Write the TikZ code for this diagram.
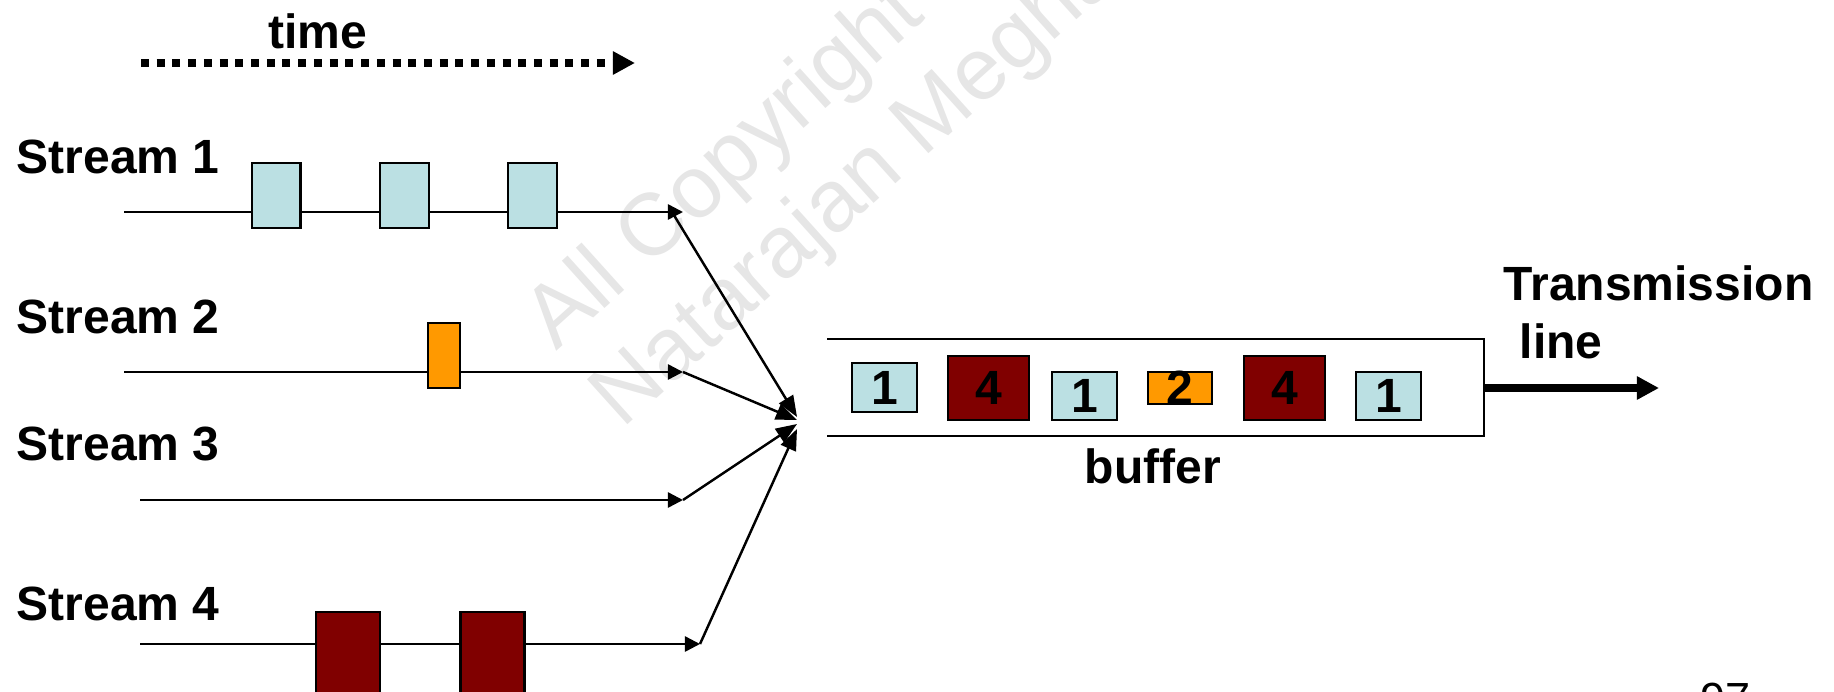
\documentclass[tikz,border=0pt]{standalone}
\usepackage{fontspec}
\setmainfont{Liberation Sans}
\usetikzlibrary{arrows.meta}
\definecolor{pktblue}{RGB}{187,224,227}
\definecolor{pktred}{RGB}{128,0,0}
\definecolor{pktorange}{RGB}{255,153,0}
\definecolor{wmgray}{RGB}{230,230,230}

\begin{document}
\begin{tikzpicture}[x=0.01cm,y=-0.01cm,
  lbl/.style={font=\fontsize{13.66pt}{16pt}\selectfont\bfseries, inner sep=0pt},
  wm/.style={font=\fontsize{25pt}{29pt}\selectfont, text=wmgray, inner sep=0pt, rotate=42, anchor=base west},
  flow/.style={line width=0.7pt, -{Triangle[length=4.3pt,width=4.3pt]}},
  feed/.style={line width=0.7pt, -{Triangle[length=6pt,width=4.6pt]}},
  timeline/.style={line width=2.4pt, dash pattern=on 2.28pt off 2.19pt, -{Triangle[length=6.3pt,width=6.3pt]}},
  txline/.style={line width=2.1pt, -{Triangle[length=6.3pt,width=6.3pt]}},
  pkt/.style={draw=black, line width=0.7pt, inner sep=0pt, rectangle},
  s1pkt/.style={pkt, fill=pktblue, minimum width=0.485cm, minimum height=0.65cm},
  s2pkt/.style={pkt, fill=pktorange, minimum width=0.32cm, minimum height=0.65cm},
  s4pkt/.style={pkt, fill=pktred, minimum width=0.64cm, minimum height=0.9cm},
  digit/.style={label={[lbl]center:#1}}
]
\useasboundingbox (0,0) rectangle (1834,691);
\clip (0,0) rectangle (1834,691);

% faint watermark behind everything
\node[wm] (wm1) at (556,352) {All Copyright};
\node[wm] (wm2) at (622,430) {Natarajan Meghanathan};

% time axis
\node[lbl, anchor=base] (time) at (317.5,49) {time};
\coordinate (t0) at (141,63);
\coordinate (t1) at (635,63);
\draw[timeline] (t0) -- (t1);

% stream labels
\node[lbl, anchor=base west] (st1) at (16,173) {Stream 1};
\node[lbl, anchor=base west] (st2) at (16,333) {Stream 2};
\node[lbl, anchor=base west] (st3) at (16,460) {Stream 3};
\node[lbl, anchor=base west] (st4) at (16,620) {Stream 4};

% stream time lines
\coordinate (a1) at (124,212); \coordinate (e1) at (683,212); \coordinate (j1) at (672,212);
\coordinate (a2) at (124,372); \coordinate (e2) at (683,372);
\coordinate (a3) at (140,500); \coordinate (e3) at (683,500);
\coordinate (a4) at (140,644); \coordinate (e4) at (700,644);
\draw[flow] (a1) -- (e1);
\draw[flow] (a2) -- (e2);
\draw[flow] (a3) -- (e3);
\draw[flow] (a4) -- (e4);

% packets on the streams
\node[s1pkt] (p11) at (276,195.5) {};
\node[s1pkt] (p12) at (404.5,195.5) {};
\node[s1pkt] (p13) at (532.5,195.5) {};
\node[s2pkt] (p21) at (444,355.5) {};
\node[s4pkt] (p41) at (348,657) {};
\node[s4pkt] (p42) at (492.5,657) {};

% multiplexing into the buffer
\coordinate (m1) at (797,417);
\coordinate (m2) at (797,420);
\coordinate (m3) at (797,424);
\coordinate (m4) at (797,429);
\draw[feed] (j1) -- (m1);
\draw[feed] (e2) -- (m2);
\draw[feed] (e3) -- (m3);
\draw[feed] (e4) -- (m4);

% buffer (open on the left)
\coordinate (bTL) at (827,339);
\coordinate (bTR) at (1484,339);
\coordinate (bBR) at (1484,436);
\coordinate (bBL) at (827,436);
\draw[line width=0.7pt] (bTL) -- (bTR) -- (bBR) -- (bBL);
\node[lbl, anchor=base] (buf) at (1153,483) {buffer};

% queued packets
\node[pkt, fill=pktblue, minimum width=0.65cm, minimum height=0.49cm, digit=1] (b1) at (884.5,387.5) {};
\node[pkt, fill=pktred, minimum width=0.81cm, minimum height=0.64cm, digit=4] (b2) at (988.5,388) {};
\node[pkt, fill=pktblue, minimum width=0.65cm, minimum height=0.48cm, digit=1] (b3) at (1084.5,396) {};
\node[pkt, fill=pktorange, minimum width=0.64cm, minimum height=0.32cm, digit=2] (b4) at (1180,388) {};
\node[pkt, fill=pktred, minimum width=0.81cm, minimum height=0.64cm, digit=4] (b5) at (1284.5,388) {};
\node[pkt, fill=pktblue, minimum width=0.65cm, minimum height=0.48cm, digit=1] (b6) at (1388.5,396) {};

% output link
\coordinate (out0) at (1484,388);
\coordinate (out1) at (1659,388);
\draw[txline] (out0) -- (out1);
\node[lbl, anchor=base west] (tx1) at (1503,300) {Transmission};
\node[lbl, anchor=base west] (tx2) at (1519,358) {line};

% page number
\node[font=\fontsize{12.8pt}{15pt}\selectfont, inner sep=0pt, anchor=base west] (pg) at (1700,714) {97};
\end{tikzpicture}
\end{document}
